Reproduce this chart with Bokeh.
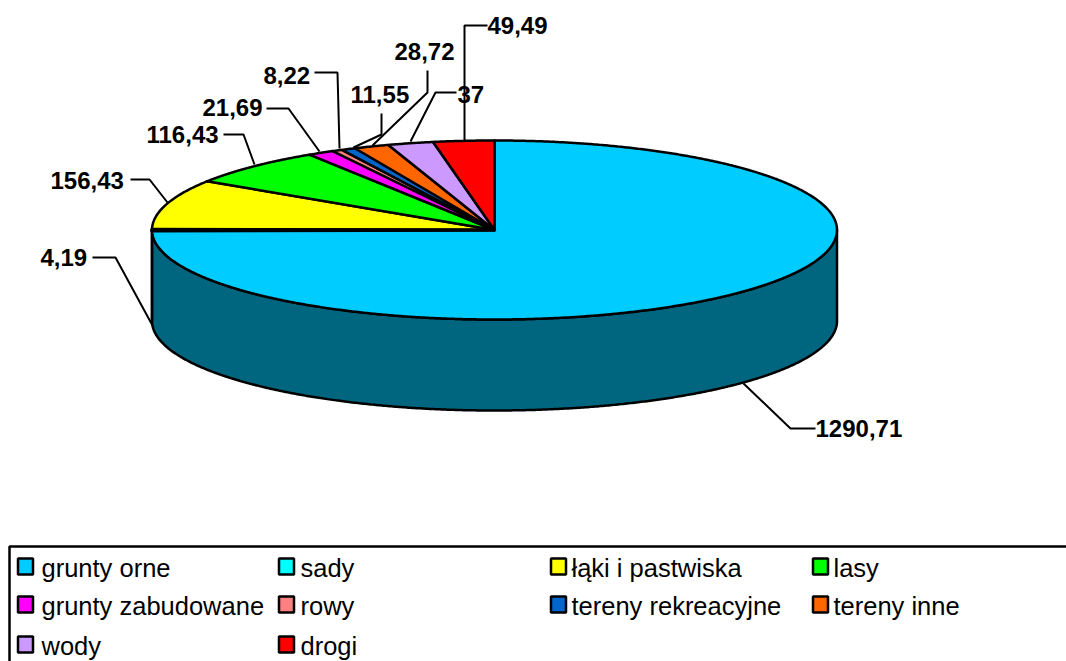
import numpy as np
from bokeh.plotting import figure
from bokeh.models import Range1d
from bokeh.core.properties import value
from bokeh.embed import file_html
from bokeh.resources import INLINE

categories = ["grunty orne", "sady", "łąki i pastwiska", "lasy", "grunty zabudowane",
              "rowy", "tereny rekreacyjne", "tereny inne", "wody", "drogi"]
values = [1290.71, 4.19, 156.43, 116.43, 21.69, 8.22, 11.55, 28.72, 37, 49.49]
labels = ["1290,71", "4,19", "156,43", "116,43", "21,69", "8,22", "11,55", "28,72", "37", "49,49"]
colors = ["#00CCFF", "#00FFFF", "#FFFF00", "#00FF00", "#FF00FF",
          "#FF8080", "#0066CC", "#FF6600", "#CC99FF", "#FF0000"]
side_colors = ["#006680", "#008080", "#808000", "#008000", "#800080",
               "#804040", "#003366", "#803300", "#664C80", "#800000"]

# layout
CX, CY, RX, RY, DEPTH = 494.0, 229.5, 342.5, 89.5, 91.0
label_pos = [(815, 428), (40, 257), (50, 180), (146, 134), (202, 107),
             (263, 75), (350, 94), (394, 51), (457, 94), (487, 25)]
leaders = [
    [(815, 428), (790, 428), (743, 383)],
    [(92, 257), (115, 257), (152, 325)],
    [(130, 179), (149, 179), (167, 202)],
    [(223, 134), (243, 134), (254, 164)],
    [(266, 108), (288, 108), (319, 151)],
    [(314, 72), (337, 72), (339, 148)],
    [(381, 113), (381, 134), (353, 147)],
    [(427, 70), (427, 92), (372, 145)],
    [(456, 92), (435, 92), (410, 141)],
    [(487, 25), (464, 25), (464, 140)],
]
legend_rows = [567, 605, 645]
legend_swatch_x = [25, 286, 558, 820]
legend_text_x = [41, 300, 571, 833]

p = figure(width=1066, height=661, x_range=Range1d(0, 1066), y_range=Range1d(661, 0),
           output_backend="svg", toolbar_location=None, min_border=0,
           outline_line_color=None, background_fill_color="white")
p.xaxis.visible = False
p.yaxis.visible = False
p.grid.visible = False


def arc(a0, a1, dy=0.0):
    th = np.radians(np.linspace(a0, a1, max(2, int(abs(a1 - a0) * 3) + 2)))
    return CX + RX * np.sin(th), CY + dy - RY * np.cos(th)


edges = np.concatenate([[0], np.cumsum(values)]) / sum(values) * 360.0

# side wall: only the front half of the disc shows
for i, col in enumerate(side_colors):
    a0, a1 = max(edges[i], 90.0), min(edges[i + 1], 270.0)
    if a1 <= a0:
        continue
    x0, y0 = arc(a0, a1)
    x1, y1 = arc(a1, a0, DEPTH)
    p.patch(list(x0) + list(x1), list(y0) + list(y1), fill_color=col,
            line_color="black", line_width=2.5, line_join="round")

# top face (the very thin slice is drawn last so its heavy edge stays on top)
order = [0, 2, 3, 4, 5, 6, 7, 8, 9, 1]
for i in order:
    x, y = arc(edges[i], edges[i + 1])
    p.patch([CX] + list(x), [CY] + list(y), fill_color=colors[i], line_color="black",
            line_width=3.5 if i == 1 else 2.5, line_join="round")

# leader lines
for pts in leaders:
    p.line([q[0] for q in pts], [q[1] for q in pts], line_color="black", line_width=2)

# value labels
p.text([q[0] for q in label_pos], [q[1] for q in label_pos], text=labels,
       text_font=value("Liberation Sans"), text_font_style="bold", text_font_size="24px",
       text_align="left", text_baseline="middle", text_color="black")

# legend
p.line([1066, 9, 9], [546, 546, 661], line_color="black", line_width=2.5)
for i, name in enumerate(categories):
    r, c = divmod(i, 4)
    p.rect([legend_swatch_x[c]], [legend_rows[r] - 1], width=15, height=16,
           fill_color=colors[i], line_color="black", line_width=2.5)
    p.text([legend_text_x[c]], [legend_rows[r]], text=[name],
           text_font=value("Liberation Sans"), text_font_size="25.5px",
           text_align="left", text_baseline="middle", text_color="black")

open("out.html", "w").write(file_html(p, INLINE))
